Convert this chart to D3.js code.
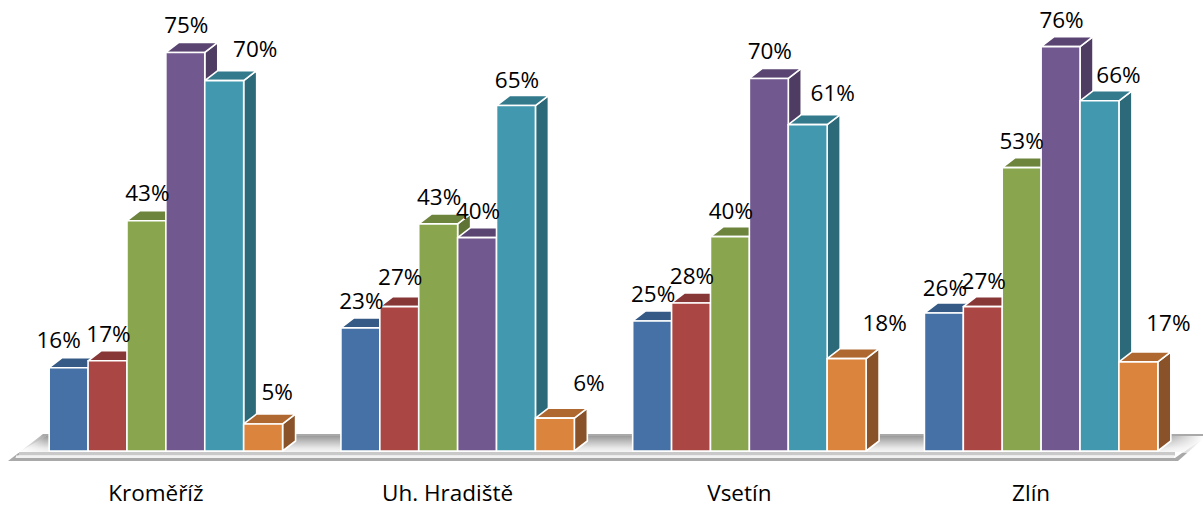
<!DOCTYPE html>
<html><head><meta charset="utf-8">
<style>html,body{margin:0;background:#fff}svg{display:block}text{font-family:"Open Sans",sans-serif;fill:#000}</style>
<script src="https://cdnjs.cloudflare.com/ajax/libs/d3/7.8.5/d3.min.js"></script>
</head><body><svg id="c" width="1203" height="506"></svg>
<script>
const categories=["Kroměříž","Uh. Hradiště","Vsetín","Zlín"];
const s1=[15.7,23.2,24.5,26];
const s2=[17,27.2,27.9,27.2];
const s3=[43.4,42.8,40.4,53.4];
const s4=[75.1,40.2,70.2,76.2];
const s5=[69.8,65.1,61.5,66];
const s6=[5.1,6.2,17.4,16.8];
const labels1=["16%","23%","25%","26%"];
const labels2=["17%","27%","28%","27%"];
const labels3=["43%","43%","40%","53%"];
const labels4=["75%","40%","70%","76%"];
const labels5=["70%","65%","61%","66%"];
const labels6=["5%","6%","18%","17%"];
const fronts=["#4571A7","#AA4643","#89A54E","#71588F","#4198AF","#DB843D"];
const tops=["#355A85","#873735","#6D843D","#5A4572","#337A8C","#AE6830"];
const sides=["#2F4F75","#76302E","#5F7335","#4E3C63","#2C6A7A","#8A5228"];

const allS=[s1,s2,s3,s4,s5,s6], allL=[labels1,labels2,labels3,labels4,labels5,labels6];
const svg=d3.select("#c");
const x0=d3.scaleBand().domain(categories).range([20,1187]).paddingInner(0.2).paddingOuter(0.1);
const x1=d3.scaleBand().domain(d3.range(6)).range([0,x0.bandwidth()]);
const y=d3.scaleLinear().domain([0,75]).range([451,53]);
const dx=13,dy=10;

const defs=svg.append("defs");
const g=defs.append("linearGradient").attr("id","fl").attr("x1",0).attr("x2",0).attr("y1",0).attr("y2",1);
g.append("stop").attr("offset",0).attr("stop-color","#9a9a9a");
g.append("stop").attr("offset",0.75).attr("stop-color","#e8e8e8");
g.append("stop").attr("offset",1).attr("stop-color","#f6f6f6");
const fl=defs.append("linearGradient").attr("id","fadeL");
fl.append("stop").attr("offset",0).attr("stop-color","#fff").attr("stop-opacity",1);
fl.append("stop").attr("offset",1).attr("stop-color","#fff").attr("stop-opacity",0);
const fr=defs.append("linearGradient").attr("id","fadeR");
fr.append("stop").attr("offset",0).attr("stop-color","#fff").attr("stop-opacity",0);
fr.append("stop").attr("offset",1).attr("stop-color","#fff").attr("stop-opacity",1);
const base=y(0);
svg.append("path").attr("d",`M8,${base+10}L43,${base-17}H1203V${base-12}L1178,${base+10}Z`).attr("fill","#a9a9a9");
const inner=`M15,${base+7}L46,${base-15}H1203V${base-13}L1175,${base+7}Z`;
svg.append("path").attr("d",inner).attr("fill","#fff");
svg.append("path").attr("d",`M19,${base+1}L46,${base-15}H1203V${base-13}L1184,${base+1}Z`).attr("fill","url(#fl)");
svg.append("rect").attr("x",17).attr("y",base-15).attr("width",28).attr("height",17).attr("fill","url(#fadeL)");
svg.append("rect").attr("x",1160).attr("y",base-15).attr("width",43).attr("height",17).attr("fill","url(#fadeR)");
svg.append("rect").attr("x",19).attr("y",base+1).attr("width",1156).attr("height",3.5).attr("fill","#c9c9c9");
svg.append("rect").attr("x",16).attr("y",base+4.5).attr("width",1158).attr("height",2.5).attr("fill","#f2f2f2");

categories.forEach((c,i)=>{
  allS.forEach((s,k)=>{
    const X=x0(c)+x1(k), w=x1.bandwidth(), T=y(s[i]), B=y(0);
    const gg=svg.append("g").attr("stroke","#fff").attr("stroke-width",1.6).attr("stroke-linejoin","round");
    gg.append("path").attr("d",`M${X+w},${T}L${X+w+dx},${T-dy}V${B-dy}L${X+w},${B}Z`).attr("fill",sides[k]);
    gg.append("path").attr("d",`M${X},${T}L${X+dx},${T-dy}H${X+w+dx}L${X+w},${T}Z`).attr("fill",tops[k]);
    gg.append("rect").attr("x",X).attr("y",T).attr("width",w).attr("height",B-T).attr("fill",fronts[k]);
  });
});

// hand-placed label offsets from each bar's top-centre, as in the reference
const nudgeX=[[-10,1,1,1,31,14],[1,1,1,1,1,34],[1,1,1,1,25,38],[1,1,0,1,19,30]];
const nudgeY=[[-20,-19,-20,-19,-24,-24],[-19,-22,-19,-19,-18,-27],[-19,-19,-18,-19,-24,-28],[-17,-18,-19,-19,-18,-31]];
categories.forEach((c,i)=>{
  allS.forEach((s,k)=>{
    const X=x0(c)+x1(k)+x1.bandwidth()/2;
    svg.append("text").attr("x",X+nudgeX[i][k]).attr("y",y(s[i])+nudgeY[i][k])
      .attr("text-anchor","middle").attr("font-size",22.5).text(allL[k][i]);
  });
  svg.append("text").attr("x",x0(c)+x0.bandwidth()/2-10).attr("y",500.5).attr("text-anchor","middle").attr("font-size",22.5).text(c);
});
</script></body></html>
